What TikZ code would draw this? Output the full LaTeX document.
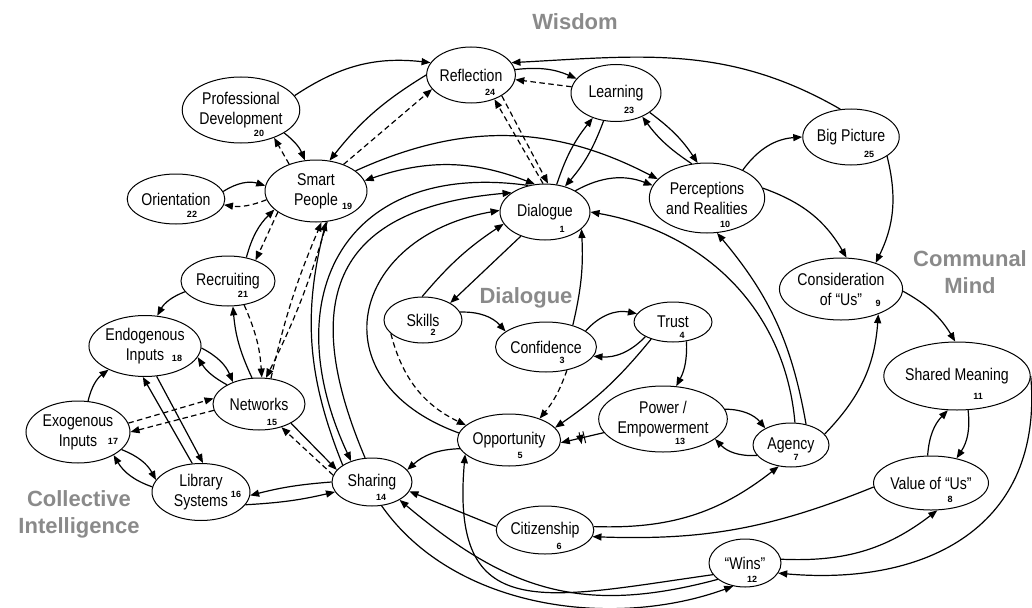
\documentclass[tikz,border=0pt]{standalone}
\usepackage{fontspec}
\setmainfont{Liberation Sans}
\newfontfamily\narrowfont[FakeStretch=0.83]{Liberation Sans}
\usetikzlibrary{shapes.geometric, arrows.meta, decorations.markings}
\definecolor{grouptext}{RGB}{138,138,138}

\begin{document}
\begin{tikzpicture}[x=1pt, y=1pt,
  >={Triangle[length=9pt,width=7pt]},
  concept/.style={ellipse, draw, line width=1pt, inner sep=0pt, align=center, font=\narrowfont\fontsize{17}{20}\selectfont},
  dims/.style 2 args={minimum width=#1pt, minimum height=#2pt},
  num/.style={inner sep=0pt, font=\bfseries\fontsize{9}{9}\selectfont},
  group/.style={align=center, text=grouptext, font=\bfseries\fontsize{22}{27}\selectfont},
  link/.style={->, line width=1.2pt},
  hint/.style={->, line width=1.2pt, dash pattern=on 5.5pt off 3.5pt},
  blocked/.style={postaction={decorate, decoration={markings, mark=at position 0.5 with {\draw[line width=1pt] (-2pt,-6pt) -- (-2pt,6pt) (2pt,-6pt) -- (2pt,6pt);}}}}
]
\useasboundingbox (0,0) rectangle (1032,-607);

    \node[concept, dims={90}{56}]   (dlg)  at (545,-212) {Dialogue};
    \node[concept, dims={78}{46}]   (skl)  at (423,-320) {Skills};
    \node[concept, dims={94}{50}]   (cnf)  at (546,-347) {Confidence};
    \node[concept, dims={78}{40}]   (trs)  at (673,-322) {Trust};
    \node[concept, dims={100}{52}]  (opp)  at (509,-440) {Opportunity};
    \node[concept, dims={92}{48}]   (ctz)  at (545,-530) {Citizenship};
    \node[concept, dims={76}{44}]   (agc)  at (791,-445) {Agency};
    \node[concept, dims={110}{54}]  (vus)  at (931,-483) {Value of “Us”};
    \node[concept, dims={110}{62}]  (cus)  at (841,-289) {Consideration\\of “Us”};
    \node[concept, dims={114}{70}]  (per)  at (707,-198) {Perceptions\\and Realities};
    \node[concept, dims={118}{68}]  (shm)  at (957,-376) {Shared Meaning};
    \node[concept, dims={72}{48}]   (wns)  at (745,-563) {“Wins”};
    \node[concept, dims={114}{66}]  (pow)  at (663,-419) {Power /\\Empowerment};
    \node[concept, dims={80}{48}]   (shr)  at (372,-482) {Sharing};
    \node[concept, dims={92}{52}]   (net)  at (259,-404) {Networks};
    \node[concept, dims={98}{57}]   (lib)  at (201,-492) {Library\\Systems};
    \node[concept, dims={104}{62}]  (exo)  at (78,-432)  {Exogenous\\Inputs};
    \node[concept, dims={102}{61}]  (endo) at (145,-346) {Endogenous\\Inputs};
    \node[concept, dims={102}{62}]  (sp)   at (316,-191) {Smart\\People};
    \node[concept, dims={114}{66}]  (pd)   at (241,-110) {Professional\\Development};
    \node[concept, dims={94}{50}]   (rec)  at (228,-281) {Recruiting};
    \node[concept, dims={94}{50}]   (ori)  at (176,-199) {Orientation};
    \node[concept, dims={90}{57}]   (lrn)  at (616,-93)  {Learning};
    \node[concept, dims={88}{56}]   (refl) at (471,-75)  {Reflection};
    \node[concept, dims={90}{56}]   (big)  at (851,-137) {Big Picture};

    \node[num] (n1)  at (562,-229) {1};
    \node[num] (n2)  at (433,-332) {2};
    \node[num] (n3)  at (562,-360) {3};
    \node[num] (n4)  at (682,-335) {4};
    \node[num] (n5)  at (520,-455) {5};
    \node[num] (n6)  at (559,-546) {6};
    \node[num] (n7)  at (796,-457) {7};
    \node[num] (n8)  at (950,-499) {8};
    \node[num] (n9)  at (878,-303) {9};
    \node[num] (n10) at (725,-224) {10};
    \node[num] (n11) at (978,-396) {11};
    \node[num] (n12) at (752,-579) {12};
    \node[num] (n13) at (680,-441) {13};
    \node[num] (n14) at (381,-497) {14};
    \node[num] (n15) at (272,-422) {15};
    \node[num] (n16) at (236,-494) {16};
    \node[num] (n17) at (113,-441) {17};
    \node[num] (n18) at (177,-358) {18};
    \node[num] (n19) at (347,-206) {19};
    \node[num] (n20) at (259,-133) {20};
    \node[num] (n21) at (243,-294) {21};
    \node[num] (n22) at (192,-214) {22};
    \node[num] (n23) at (629,-110) {23};
    \node[num] (n24) at (490,-92)  {24};
    \node[num] (n25) at (869,-154) {25};

    \node[group] (wisdom)     at (575,-22)  {Wisdom};
    \node[group] (dialoguelbl) at (526,-298) {Dialogue};
    \node[group] (communal)   at (970,-272) {Communal\\Mind};
    \node[group] (collective) at (79,-514)  {Collective\\Intelligence};

    % wisdom
    \draw (pd.15) edge[link, bend left=20] (refl.163);
    \draw (refl.180) edge[link, bend right=10] (sp.66);
    \draw (sp.44) edge[hint] (refl.200);
    \draw (refl.7) edge[link, bend left=15] (lrn.160);
    \draw (lrn.172) edge[hint] (refl.-6);
    \draw (dlg.94) edge[hint] (refl.-46);
    \draw (refl.-34) edge[hint] (dlg.84);
    \draw (dlg.67) edge[link, bend left=10] (lrn.227);
    \draw (lrn.246) edge[link, bend left=10] (dlg.52);
    \draw (lrn.-30) edge[link, bend left=10] (per.105);
    \draw (per.114) edge[link, bend left=10] (lrn.-42);
    \draw (big.111) edge[link, out=150, in=3] (refl.17);
    \draw (sp.27) edge[link, bend left=26] (per.159);
    \draw (dlg.35) edge[link, bend left=25] (per.167);
    \draw (dlg.110) edge[link, <->, bend right=20] (sp.12);

    % communal mind
    \draw (per.38) edge[link, bend left=25] (big.180);
    \draw (big.-28) edge[link, bend left=20] (cus.37);
    \draw (per.10) edge[link, bend left=20] (cus.80);
    \draw (cus.-2) edge[link, bend left=15] (shm.93);
    \draw (shm.-72) edge[link, bend left=20] (vus.44);
    \draw (vus.97) edge[link, bend left=20] (shm.255);
    \draw (shm.0) edge[link, out=-85, in=-5, looseness=1.2] (wns.-17);
    \draw (wns.6) edge[link, bend right=20] (vus.-77);
    \draw (vus.184) edge[link, bend left=12] (ctz.-8);
    \draw (ctz.4) edge[link, bend right=20] (agc.240);
    \draw (agc.18) edge[link, bend right=20] (cus.-34);
    \draw (pow.9) edge[link, bend left=25] (agc.147);
    \draw (agc.197) edge[link, bend left=25] (pow.-21);
    \draw (agc.54) edge[link, bend right=15] (per.-74);
    \draw (agc.80) edge[link, out=95, in=-10] (dlg.0);

    % dialogue
    \draw (trs.-55) edge[link, bend left=15] (pow.68);
    \draw (trs.218) edge[link, bend left=8] (opp.15);
    \draw (cnf.22) edge[link, bend left=30] (trs.167);
    \draw (trs.208) edge[link, bend left=25] (cnf.-11);
    \draw (cnf.39) edge[link, bend right=8] (dlg.-25);
    \draw (cnf.-48) edge[hint, bend left=10] (opp.35);
    \draw (skl.12) edge[link, bend left=25] (cnf.159);
    \draw (skl.203) edge[hint, bend right=25] (opp.161);
    \draw (skl.92) edge[link, bend left=8] (dlg.196);
    \draw (dlg.225) edge[link] (skl.32);
    \draw[link, blocked] (pow.193) -- (opp.-3);
    \draw (opp.190) edge[link, bend right=20] (shr.19);
    \draw (opp.172) edge[link, out=160, in=190, looseness=1.72] (dlg.178);

    % collective intelligence
    \draw (ori.9) edge[link, bend left=25] (sp.174);
    \draw (sp.190) edge[hint, bend left=15] (ori.-7);
    \draw (pd.-28) edge[link, bend left=15] (sp.110);
    \draw (sp.135) edge[hint] (pd.-40);
    \draw (rec.194) edge[link, bend right=20] (endo.68);
    \draw (net.105) edge[link, bend left=10] (rec.-79);
    \draw (rec.-56) edge[hint, bend left=10] (net.84);
    \draw (rec.52) edge[link, bend left=15] (sp.204);
    \draw (sp.209) edge[hint] (rec.37);
    \draw (endo.-2) edge[link, bend left=20] (net.140);
    \draw (net.149) edge[link, bend left=15] (endo.-12);
    \draw (exo.72) edge[link, bend left=20] (endo.213);
    \draw (exo.10) edge[hint] (net.173);
    \draw (net.188) edge[hint] (exo.0);
    \draw (lib.107) edge[link] (endo.266);
    \draw (endo.-69) edge[link] (lib.86);
    \draw (exo.-22) edge[link, bend left=20] (lib.165);
    \draw (lib.174) edge[link, bend left=20] (exo.-33);
    \draw (shr.180) edge[link, bend right=5] (lib.-4);
    \draw (lib.-16) edge[link, bend right=5] (shr.195);
    \draw (net.-31) edge[link] (shr.161);
    \draw (shr.170) edge[hint] (net.-46);
    \draw (sp.-70) edge[hint, bend left=5] (net.75);
    \draw (net.65) edge[hint, bend left=5] (sp.-80);
    \draw (shr.150) edge[link, bend left=18] (sp.-72);
    \draw (dlg.122) edge[link, out=172, in=115, looseness=1.44] (shr.135);
    \draw (shr.106) edge[link, out=113, in=185, looseness=1.48] (dlg.150);
    \draw (ctz.176) edge[link] (shr.-14);
    \draw (wns.200) edge[link, out=188, in=-95, looseness=1.6] (opp.198);
    \draw (wns.211) edge[link, out=195, in=-40, looseness=1.1] (shr.-33);
    \draw (shr.-68) edge[link, out=-55, in=200, looseness=0.9] (wns.243);
\end{tikzpicture}
\end{document}
